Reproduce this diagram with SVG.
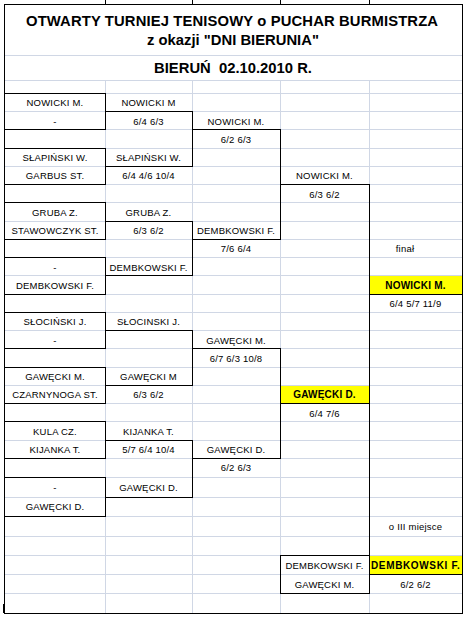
<svg xmlns="http://www.w3.org/2000/svg" width="466" height="617" viewBox="0 0 466 617">
<style>
.g{stroke:#d0d7e5;stroke-width:1;fill:none}
.b{stroke:#000;stroke-width:1;fill:none}
.y{fill:#ffff00}
.h{font-family:"Liberation Sans",Arial,sans-serif;font-weight:bold;font-size:14.8px;text-anchor:middle;fill:#000;white-space:pre}
.t{font-family:"Liberation Sans",Arial,sans-serif;font-size:9.5px;text-anchor:middle;letter-spacing:0.2px;fill:#000}
.tb{font-weight:bold;font-size:10px}
</style>
<rect x="0" y="0" width="466" height="617" fill="#fff"/>
<g id="grid" shape-rendering="crispEdges">
<path class="g" d="M5 55.5H462M5 80.5H462M5 93.5H462M5 111.5H462M5 129.5H462M5 148.5H462M5 166.5H462M5 184.5H462M5 202.5H462M5 221.5H462M5 239.5H462M5 257.5H462M5 275.5H462M5 294.5H462M5 312.5H462M5 330.5H462M5 348.5H462M5 367.5H462M5 385.5H462M5 403.5H462M5 421.5H462M5 440.5H462M5 458.5H462M5 477.5H462M5 497.5H462M5 516.5H462M5 536.5H462M5 555.5H462M5 574.5H462M5 593.5H462"/>
<path class="g" d="M105.5 80V613M192.5 80V613M280.5 80V613M369.5 80V613"/>
</g>
<g id="frame" shape-rendering="crispEdges">
<rect class="b" x="4.5" y="4.5" width="457.5" height="608.5"/>
<path class="b" d="M105.5 0V4M192.5 0V4M280.5 0V4M369.5 0V4"/>
<rect x="2.5" y="604" width="2.5" height="9" fill="#000"/>
</g>
<g id="title">
<text class="h" x="232" y="26" textLength="412" lengthAdjust="spacing">OTWARTY TURNIEJ TENISOWY o PUCHAR BURMISTRZA</text>
<text class="h" x="233" y="45">z okazji "DNI BIERUNIA"</text>
<text class="h" x="233" y="72.5">BIERUŃ  02.10.2010 R.</text>
</g>
<g id="highlights" shape-rendering="crispEdges">
<rect class="y" x="370" y="276" width="92" height="18"/>
<rect class="y" x="281" y="386" width="88" height="17.5"/>
<rect class="y" x="370" y="556" width="92" height="18"/>
</g>
<g id="connectors" shape-rendering="crispEdges">
<path class="b" d="M105 111.5H192.5M105 166.5H192.5M105 221.5H192.5M105 275.5H192.5M105 330.5H192.5M105 385.5H192.5M105 440.5H192.5M105 497.5H192.5"/>
<path class="b" d="M192.5 111.5V166.5M192.5 221.5V275.5M192.5 330.5V385.5M192.5 440.5V497.5"/>
<path class="b" d="M192 129.5H280.5M192 239.5H280.5M192 348.5H280.5M192 458.5H280.5"/>
<path class="b" d="M280.5 129.5V239.5M280.5 348.5V458.5"/>
<path class="b" d="M280 184.5H369.5M280 403.5H369.5"/>
<path class="b" d="M369.5 184.5V593.5"/>
<path class="b" d="M369 294.5H462M369 574.5H462"/>
</g>
<g id="r1-m1" shape-rendering="crispEdges"><rect class="b" x="4.5" y="93.5" width="101" height="36"/></g>
<g id="r1-m2"><rect class="b" x="4.5" y="148.5" width="101" height="36" shape-rendering="crispEdges"/></g>
<g id="r1-m3"><rect class="b" x="4.5" y="202.5" width="101" height="37" shape-rendering="crispEdges"/></g>
<g id="r1-m4"><rect class="b" x="4.5" y="257.5" width="101" height="37" shape-rendering="crispEdges"/></g>
<g id="r1-m5"><rect class="b" x="4.5" y="312.5" width="101" height="36" shape-rendering="crispEdges"/></g>
<g id="r1-m6"><rect class="b" x="4.5" y="367.5" width="101" height="36" shape-rendering="crispEdges"/></g>
<g id="r1-m7"><rect class="b" x="4.5" y="421.5" width="101" height="37" shape-rendering="crispEdges"/></g>
<g id="r1-m8"><rect class="b" x="4.5" y="477.5" width="101" height="39" shape-rendering="crispEdges"/></g>
<g id="third-box"><rect class="b" x="280.5" y="555.5" width="89" height="38" shape-rendering="crispEdges"/></g>
<g id="colA">
<text class="t" x="55" y="106">NOWICKI M.</text>
<text class="t" x="55" y="124.5">-</text>
<text class="t" x="55" y="161">SŁAPIŃSKI W.</text>
<text class="t" x="55" y="179">GARBUS ST.</text>
<text class="t" x="55" y="215.5">GRUBA Z.</text>
<text class="t" x="55" y="234">STAWOWCZYK ST.</text>
<text class="t" x="55" y="270.5">-</text>
<text class="t" x="55" y="288.5">DEMBKOWSKI F.</text>
<text class="t" x="55" y="325">SŁOCIŃSKI J.</text>
<text class="t" x="55" y="343.5">-</text>
<text class="t" x="55" y="380">GAWĘCKI M.</text>
<text class="t" x="55" y="398">CZARNYNOGA ST.</text>
<text class="t" x="55" y="434.5">KULA CZ.</text>
<text class="t" x="55" y="453">KIJANKA T.</text>
<text class="t" x="55" y="491">-</text>
<text class="t" x="55" y="510">GAWĘCKI D.</text>
</g>
<g id="colB">
<text class="t" x="148.5" y="106">NOWICKI M</text>
<text class="t" x="148.5" y="124.5">6/4 6/3</text>
<text class="t" x="148.5" y="161">SŁAPIŃSKI W.</text>
<text class="t" x="148.5" y="179">6/4 4/6 10/4</text>
<text class="t" x="148.5" y="215.5">GRUBA Z.</text>
<text class="t" x="148.5" y="234">6/3 6/2</text>
<text class="t" x="148.5" y="270.5">DEMBKOWSKI F.</text>
<text class="t" x="148.5" y="325">SŁOCINSKI J.</text>
<text class="t" x="148.5" y="380">GAWĘCKI M</text>
<text class="t" x="148.5" y="398">6/3 6/2</text>
<text class="t" x="148.5" y="434.5">KIJANKA T.</text>
<text class="t" x="148.5" y="453">5/7 6/4 10/4</text>
<text class="t" x="148.5" y="491">GAWĘCKI D.</text>
</g>
<g id="colC">
<text class="t" x="236" y="124.5">NOWICKI M.</text>
<text class="t" x="236" y="142.5">6/2 6/3</text>
<text class="t" x="236" y="234">DEMBKOWSKI F.</text>
<text class="t" x="236" y="252">7/6 6/4</text>
<text class="t" x="236" y="343.5">GAWĘCKI M.</text>
<text class="t" x="236" y="361.5">6/7 6/3 10/8</text>
<text class="t" x="236" y="453">GAWĘCKI D.</text>
<text class="t" x="236" y="471">6/2 6/3</text>
</g>
<g id="colD">
<text class="t" x="324.5" y="179">NOWICKI M.</text>
<text class="t" x="324.5" y="197.5">6/3 6/2</text>
<text class="t tb" x="324.5" y="398">GAWĘCKI D.</text>
<text class="t" x="324.5" y="416.5">6/4 7/6</text>
</g>
<g id="final">
<text class="t" x="405" y="252">finał</text>
<text class="t tb" x="415.5" y="288.5">NOWICKI M.</text>
<text class="t" x="415.5" y="307">6/4 5/7 11/9</text>
</g>
<g id="third">
<text class="t" x="415.5" y="529.5">o III miejsce</text>
<text class="t" x="324.5" y="568.5">DEMBKOWSKI F.</text>
<text class="t" x="324.5" y="587.5">GAWĘCKI M.</text>
<text class="t tb" x="415.5" y="568.5" textLength="89" lengthAdjust="spacing">DEMBKOWSKI F.</text>
<text class="t" x="415.5" y="587.5">6/2 6/2</text>
</g>
</svg>
